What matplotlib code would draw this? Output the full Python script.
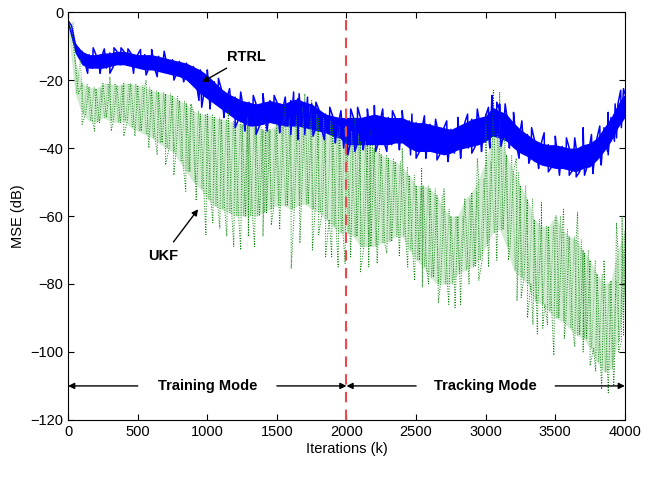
import numpy as np
import matplotlib
matplotlib.use("Agg")
import matplotlib.pyplot as plt

plt.rcParams['font.family'] = ['Liberation Sans', 'DejaVu Sans']

# Iteration grid (every 50 iterations)
iters = list(range(0, 4001, 50))

# RTRL MSE band (upper / lower edge, dB)
rtrl_hi = [-2.5, -9, -11.5, -12.5, -12.5, -12, -12, -11.5, -11.5, -12,
           -12.5, -12.5, -12.5, -13, -13.5, -14, -14.5, -15, -16, -17,
           -18.5, -20.5, -22.5, -24, -25, -26, -26.5, -27, -26.5, -26,
           -26.5, -27, -26, -25.5, -26.5, -27, -28.5, -30, -30.5, -31,
           -31, -31, -31, -30.5, -30, -30.5, -31, -31, -31, -32,
           -32.5, -32.5, -33, -33.5, -34, -34.5, -33.5, -32.5, -31.5, -31,
           -30.5, -28, -29, -30, -32.5, -34.5, -36, -37.5, -38.5, -39,
           -39, -39.5, -40, -40, -39, -38.5, -37, -34, -31, -27, -24]
rtrl_lo = [-4, -12, -15.5, -16.5, -16.5, -16.5, -16, -15.5, -15.5, -16,
           -16.5, -17, -17, -17.5, -18, -18.5, -19, -20, -22, -24,
           -25.5, -27, -28.5, -30, -31.5, -32.5, -33.5, -33.5, -33, -32.5,
           -33, -33.5, -33.5, -33.5, -34, -34.5, -35, -35.5, -36.5, -37,
           -39, -39, -39, -39, -39, -39, -39, -38.5, -38.5, -40,
           -41, -41, -41, -41.5, -42, -41.5, -40.5, -40, -39.5, -39,
           -38, -36.5, -37, -38, -40, -41.5, -42.5, -44, -45, -45.5,
           -46, -46, -46.5, -47, -46, -45.5, -43.5, -41, -38, -34, -31]
# RTRL noise spikes (iteration, dB)
rtrl_spike_x = [180, 260, 330, 380, 430, 520, 600, 690,
                140, 230, 300, 470, 560, 640, 760, 830,
                1000, 1080, 1160, 1240, 940, 960, 1020, 1120, 1200, 1270,
                1330, 1400, 1480, 1560, 1620, 1660, 1720, 1780, 1880, 1960,
                1350, 1430, 1520, 1600, 1650, 1700, 1760, 1840, 1920, 1980,
                2030, 2080, 2150, 2200, 2260, 2330, 2400, 2470, 2560, 2640, 2720, 2800, 2870, 2940,
                2010, 2060, 2120, 2210, 2290, 2380, 2460, 2500, 2570, 2650, 2730, 2820, 2900, 2970,
                3020, 3045, 3080, 3100, 3140, 3200, 3260, 3330, 3420, 3500, 3580, 3640, 3700, 3760,
                3820, 3880, 3930, 3970, 3990,
                3030, 3110, 3170, 3240, 3310, 3380, 3450, 3530, 3600, 3650, 3710, 3770, 3830, 3880, 3940]
rtrl_spike_y = [-10.5, -10.8, -10.5, -10.5, -10.8, -11, -11, -11.5,
                -18, -18, -18, -18, -18.5, -19, -20, -20.5,
                -17, -19.5, -22.5, -23.5, -26, -28, -28.5, -31, -34, -35,
                -24.5, -24, -24.5, -25, -23.5, -24, -25, -26.5, -28, -29,
                -36, -35, -35.5, -36, -37.5, -36, -36.5, -37.5, -38.5, -40,
                -28.5, -28, -28.5, -27.5, -28.5, -29, -29, -30, -30.5, -31.5, -32, -31, -30, -28.5,
                -42, -41, -40.5, -41, -41, -40.5, -42, -43, -43, -43.5, -44, -43, -41.5, -41,
                -28, -24.5, -26.5, -27, -27, -29.5, -32, -34, -35.5, -36.5, -37, -37, -34, -36,
                -33.5, -29.5, -27, -23, -22.5,
                -40, -39.5, -40, -43, -44.5, -46, -47, -48, -48, -48.5, -48, -47.5, -45, -42, -37]

# UKF MSE band (upper / lower edge of dense core, dB)
ukf_hi = [-3, -14, -21, -22, -22.5, -21, -21, -21.5, -21, -21,
          -21.5, -22, -23, -23.5, -24, -24.5, -26, -27, -29, -30,
          -30, -31, -31.5, -32, -32.5, -33, -33.5, -34, -34.5, -34.5,
          -33, -31, -30, -28, -27.5, -30, -31, -32, -33, -34,
          -35, -36, -38, -39, -40, -42, -43, -44, -45.5, -48,
          -51, -51, -52, -54, -58, -60, -60, -55, -53, -49,
          -44, -36, -37, -42, -47, -51, -55, -61, -63, -63,
          -60, -64, -66, -67, -70, -73, -77, -80, -79, -70, -64]
ukf_lo = [-5, -24, -30, -32, -32.5, -31, -32, -32.5, -32, -34,
          -35, -36, -37, -38.5, -40, -41, -44, -47, -50, -52,
          -55, -57, -58, -59, -60, -60, -60, -60, -59, -58,
          -57, -57, -58, -57, -56.5, -58, -59, -61, -63, -65,
          -65, -66, -69, -69, -69, -68, -67.5, -66, -66, -70,
          -73, -75, -78, -80, -80, -80, -77, -76, -75, -73,
          -69, -65, -64, -69, -76, -78, -80, -85, -86, -88,
          -90, -91, -93, -95, -96, -99, -103, -106, -105, -97, -83]
# UKF isolated spikes (iteration, dB)
ukf_spike_x = [190, 400, 480, 580, 700, 845, 920, 990, 1090, 1190, 1340, 1460,
               1603, 1700, 1800, 1894, 1990, 2030, 2100, 2290, 2490, 2590, 2660,
               2735, 2880, 3055, 3100, 3164, 3225, 3300, 3371, 3444, 3490, 3510,
               3640, 3660, 3710, 3790, 3833, 3881, 3980, 3990,
               300, 560, 880, 1150, 1290, 1420, 1560, 1660, 1750, 2060, 2170, 2400,
               2540, 2700, 2940, 3000, 3220, 3400, 3560, 3850, 3940,
               100, 310, 640, 760, 1040, 1140, 1240, 1295, 1400, 1520, 1665, 1755,
               1850, 1940, 2160, 2220, 2380, 2440, 2545, 2780, 2820, 2950, 3020,
               3080, 3255, 3340, 3410, 3565, 3700, 3750, 3920, 3955]
ukf_spike_y = [-35, -36.5, -36.5, -40, -45, -52.7, -55.5, -65.5, -63.7, -69, -69, -62.7,
               -75.5, -24, -65.5, -72, -74, -72, -76.4, -71, -79, -80, -85.6,
               -86, -80, -23, -23.5, -73, -85, -90, -94.7, -92, -101, -60,
               -98.5, -59, -71, -105.6, -111, -112, -60, -95,
               -19, -20, -27, -29, -31, -31, -26, -25, -26, -31, -35, -40,
               -46, -52, -43, -30, -43, -56, -58, -73, -62,
               -33, -35, -42, -48, -62, -66, -70, -66, -66, -64, -68, -70,
               -72, -75, -75, -74, -72, -75, -81, -87, -86, -79, -75,
               -73, -84, -92, -93, -96, -100, -104, -110, -100]

fig = plt.figure(figsize=(6.55, 4.86), dpi=100)
ax = fig.add_axes([0.104, 0.136, 0.850, 0.839])

x = np.array(iters, dtype=float)
half = 25.0

def zigzag(hi, lo, sx, sy, phase=0.0):
    px = list(x + phase) + list(x[:-1] + half + phase) + list(sx)
    py = list(hi) + list(lo[:-1]) + list(sy)
    px = np.clip(np.array(px), 0, 4000)
    order = np.argsort(px, kind='stable')
    return px[order], np.array(py)[order]

# UKF (green dotted)
ax.fill_between(x, ukf_lo, ukf_hi, color='#5cb85c', alpha=0.28, lw=0)
ux, uy = zigzag(ukf_hi, ukf_lo, ukf_spike_x, ukf_spike_y)
ax.plot(ux, uy, ':', color='#008000', lw=0.7)
ux2, uy2 = zigzag(ukf_lo, ukf_hi, [], [], phase=12.0)
ax.plot(ux2, uy2, ':', color='#3aa53a', lw=0.6)

# RTRL (blue solid)
ax.fill_between(x, rtrl_lo, rtrl_hi, color='#0000ff', lw=0)
rx, ry = zigzag(rtrl_hi, rtrl_lo, rtrl_spike_x, rtrl_spike_y)
ax.plot(rx, ry, '-', color='#0000ff', lw=1.1)

# mode separator
ax.axvline(2000, color='#f04848', ls='--', lw=1.5, dashes=(5, 3.5))

ax.set_xlim(0, 4000)
ax.set_ylim(-120, 0)
ax.set_xticks(range(0, 4001, 500))
ax.set_yticks(range(-120, 1, 20))
ax.tick_params(direction='in', top=True, right=True, labelsize=10.5, length=4)
ax.set_xlabel('Iterations (k)', fontsize=10.5, labelpad=2)
ax.set_ylabel('MSE (dB)', fontsize=10.5)

arrowprops = dict(arrowstyle='-|>', color='black', lw=1.0, mutation_scale=9, shrinkA=0, shrinkB=0)
ax.annotate('', xy=(0, -110), xytext=(500, -110), arrowprops=arrowprops)
ax.annotate('', xy=(2000, -110), xytext=(1500, -110), arrowprops=arrowprops)
ax.annotate('', xy=(2000, -110), xytext=(2500, -110), arrowprops=arrowprops)
ax.annotate('', xy=(4000, -110), xytext=(3500, -110), arrowprops=arrowprops)
ax.text(1000, -110, 'Training Mode', ha='center', va='center', fontsize=10.5, fontweight='bold')
ax.text(3000, -110, 'Tracking Mode', ha='center', va='center', fontsize=10.5, fontweight='bold')

ax.annotate('RTRL', xy=(962, -20.6), xytext=(1140, -13.2), fontsize=10.5, fontweight='bold',
            ha='left', va='center',
            arrowprops=dict(arrowstyle='-|>', color='black', lw=1.0, mutation_scale=9,
                            shrinkA=2, shrinkB=0))
ax.annotate('UKF', xy=(934, -58), xytext=(680, -71.8), fontsize=10.5, fontweight='bold',
            ha='center', va='center',
            arrowprops=dict(arrowstyle='-|>', color='black', lw=1.0, mutation_scale=9,
                            shrinkA=4, shrinkB=0))

fig.savefig('out.png', dpi=100)
